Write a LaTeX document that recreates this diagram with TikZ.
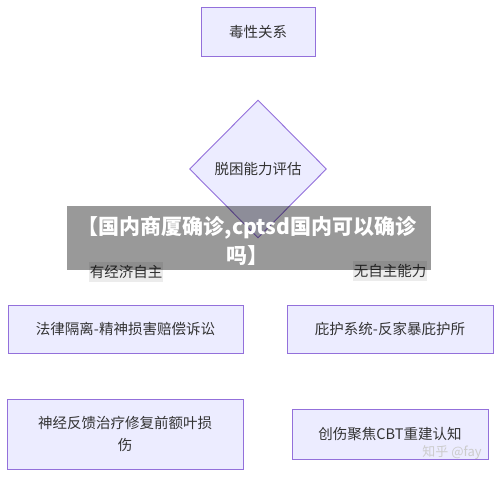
\documentclass[tikz,border=0pt]{standalone}
\usepackage{fontspec}
\setmainfont{Noto Sans CJK SC}
\usetikzlibrary{shapes.geometric,arrows.meta,calc}
\definecolor{boxfill}{HTML}{ECECFF}
\definecolor{boxline}{HTML}{9370DB}
\definecolor{txt}{HTML}{333333}
\definecolor{lblbg}{HTML}{E8E8E8}
\pgfdeclarelayer{bg}
\pgfsetlayers{bg,main}
\tikzset{
  flowbox/.style={draw=boxline, fill=boxfill, line width=0.9pt, text=txt, inner sep=0pt,
    font=\fontsize{14.5}{22}\selectfont, align=center},
  decision/.style={flowbox, shape=diamond, minimum width=137pt, minimum height=138pt},
  edgelabel/.style={fill=lblbg, fill opacity=0.8, text opacity=1, text=txt, inner xsep=1pt,
    inner ysep=0pt, minimum height=20pt, font=\fontsize{14.5}{16}\selectfont},
  link/.style={draw=txt, line width=0.8pt, -{Triangle[length=7pt,width=7pt]}},
  plainlink/.style={draw=txt, line width=0.8pt}
}
\begin{document}
\begin{tikzpicture}[x=1pt,y=-1pt]
\useasboundingbox (0,0) rectangle (500,477);
\fill[white] (0,0) rectangle (500,477);
% nodes
\node[flowbox, minimum width=114pt, minimum height=49pt] (a) at (258,31.5) {毒性关系};
\node[decision] (d) at (258,169) {脱困能力评估};
\node[edgelabel] (la) at (126,272) {有经济自主};
\node[edgelabel] (lb) at (390,271) {无自主能力};
\node[flowbox, minimum width=235pt, minimum height=48pt] (b1) at (125.5,329) {法律隔离-精神损害赔偿诉讼};
\node[flowbox, minimum width=206pt, minimum height=48pt] (b2) at (390,329) {庇护系统-反家暴庇护所};
\node[flowbox, minimum width=236pt, minimum height=70pt] (c1) at (125,434) {神经反馈治疗修复前额叶损\\伤};
\node[flowbox, minimum width=196pt, minimum height=50pt] (c2) at (390,434) {创伤聚焦CBT重建认知};
% connectors
\begin{pgfonlayer}{bg}
\draw[link] (a.south) -- (d.north);
\draw[plainlink] (d.south west) -- ($(la.center)+(16,-4)$) .. controls ($(la.center)+(1,8)$) .. ($(la.center)+(0,14)$);
\draw[link] ($(la.center)+(0,14)$) -- (b1.north);
\draw[plainlink] (d.south east) -- ($(lb.center)+(-17,-3)$) .. controls ($(lb.center)+(0,8)$) .. ($(lb.center)+(0,15)$);
\draw[link] ($(lb.center)+(0,15)$) -- (b2.north);
\draw[link] (b1.south) -- (c1.north);
\draw[link] (b2.south) -- (c2.north);
\end{pgfonlayer}
% overlay banner
\fill[black, opacity=0.4] (67,206) rectangle (431,270);
\node[text=white, font=\fontsize{21}{29}\selectfont\bfseries, align=center, inner sep=0pt] (t) at (247,240.5) {【国内商厦确诊,cptsd国内可以确诊\\吗】};
% watermark
\node[text=gray!40, font=\fontsize{13}{15}\selectfont, inner sep=0pt] (w) at (452,453) {知乎 @fay};
\end{tikzpicture}
\end{document}
